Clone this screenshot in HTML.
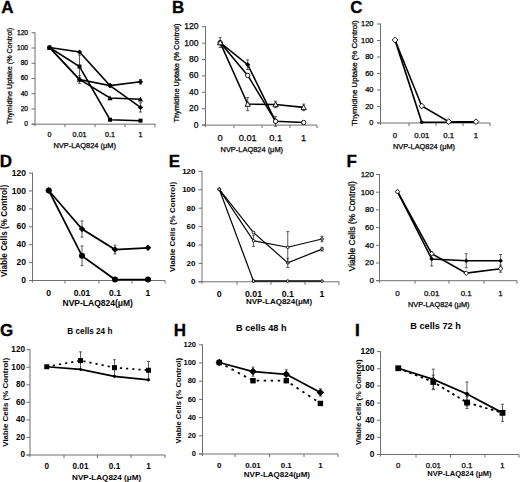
<!DOCTYPE html>
<html><head><meta charset="utf-8"><style>
html,body{margin:0;padding:0;background:#fff;}
svg{display:block;}
text{font-family:"Liberation Sans", sans-serif;fill:#000;}
</style></head><body>
<svg width="520" height="482" viewBox="0 0 520 482">
<rect width="520" height="482" fill="#fff"/>
<text x="1.2" y="13.2" font-size="17" font-weight="bold" stroke="#000" stroke-width="0.3">A</text>
<path d="M35.00,32.26V126.20M31.50,124.20H155.50" stroke="#6e6e6e" stroke-width="1" fill="none"/>
<text x="28.00" y="126.08" font-size="6.6" font-weight="normal" text-anchor="end"  stroke="#000" stroke-width="0.25">0</text>
<text x="28.00" y="110.84" font-size="6.6" font-weight="normal" text-anchor="end"  stroke="#000" stroke-width="0.25">20</text>
<text x="28.00" y="95.60" font-size="6.6" font-weight="normal" text-anchor="end"  stroke="#000" stroke-width="0.25">40</text>
<text x="28.00" y="80.36" font-size="6.6" font-weight="normal" text-anchor="end"  stroke="#000" stroke-width="0.25">60</text>
<text x="28.00" y="65.12" font-size="6.6" font-weight="normal" text-anchor="end"  stroke="#000" stroke-width="0.25">80</text>
<text x="28.00" y="49.88" font-size="6.6" font-weight="normal" text-anchor="end"  stroke="#000" stroke-width="0.25">100</text>
<text x="28.00" y="34.64" font-size="6.6" font-weight="normal" text-anchor="end"  stroke="#000" stroke-width="0.25">120</text>
<path d="M31.50,124.20H35.00M31.50,108.96H35.00M31.50,93.72H35.00M31.50,78.48H35.00M31.50,63.24H35.00M31.50,48.00H35.00M31.50,32.76H35.00M65.00,124.20V127.20M95.00,124.20V127.20M125.00,124.20V127.20M155.00,124.20V127.20" stroke="#6e6e6e" stroke-width="1" fill="none"/>
<text x="49.50" y="137.09" font-size="7.2" font-weight="normal" text-anchor="middle"  stroke="#000" stroke-width="0.25">0</text>
<text x="79.50" y="137.09" font-size="7.2" font-weight="normal" text-anchor="middle"  stroke="#000" stroke-width="0.25">0.01</text>
<text x="110.00" y="137.09" font-size="7.2" font-weight="normal" text-anchor="middle"  stroke="#000" stroke-width="0.25">0.1</text>
<text x="140.50" y="137.09" font-size="7.2" font-weight="normal" text-anchor="middle"  stroke="#000" stroke-width="0.25">1</text>
<text x="84.70" y="147.88" font-size="7.45" font-weight="normal" text-anchor="middle"  stroke="#000" stroke-width="0.25">NVP-LAQ824 (μM)</text>
<text transform="translate(9.00,76.00) rotate(-90)" x="0" y="2.59" font-size="7.2" font-weight="normal" text-anchor="middle"  stroke="#000" stroke-width="0.25">Thymidine Uptake (% Control)</text>
<path d="M49.50,47.50 L79.50,52.07 L110.00,85.60 L140.50,107.47" stroke="#000" stroke-width="1.55" fill="none"/>
<path d="M140.50,102.90V112.04M139.00,102.90H142.00M139.00,112.04H142.00" stroke="#333" stroke-width="0.8" fill="none"/>
<path d="M46.90,47.50L49.50,44.90L52.10,47.50L49.50,50.10Z" fill="#000"/>
<path d="M76.90,52.07L79.50,49.47L82.10,52.07L79.50,54.67Z" fill="#000"/>
<path d="M107.40,85.60L110.00,83.00L112.60,85.60L110.00,88.20Z" fill="#000"/>
<path d="M137.90,107.47L140.50,104.87L143.10,107.47L140.50,110.07Z" fill="#000"/>
<path d="M49.50,47.50 L79.50,66.55 L110.00,119.74 L140.50,120.65" stroke="#000" stroke-width="1.55" fill="none"/>
<path d="M79.50,55.12V77.98M78.00,55.12H81.00M78.00,77.98H81.00" stroke="#333" stroke-width="0.8" fill="none"/>
<rect x="47.50" y="45.50" width="4.00" height="4.00" fill="#000"/>
<rect x="77.50" y="64.55" width="4.00" height="4.00" fill="#000"/>
<rect x="108.00" y="117.74" width="4.00" height="4.00" fill="#000"/>
<rect x="138.50" y="118.65" width="4.00" height="4.00" fill="#000"/>
<path d="M49.50,47.50 L79.50,79.50 L110.00,85.60 L140.50,81.79" stroke="#000" stroke-width="1.55" fill="none"/>
<path d="M79.50,75.69V83.31M78.00,75.69H81.00M78.00,83.31H81.00" stroke="#333" stroke-width="0.8" fill="none"/>
<path d="M140.50,79.50V84.08M139.00,79.50H142.00M139.00,84.08H142.00" stroke="#333" stroke-width="0.8" fill="none"/>
<path d="M46.90,47.50L49.50,44.90L52.10,47.50L49.50,50.10Z" fill="#000"/>
<path d="M76.90,79.50L79.50,76.90L82.10,79.50L79.50,82.10Z" fill="#000"/>
<path d="M107.40,85.60L110.00,83.00L112.60,85.60L110.00,88.20Z" fill="#000"/>
<path d="M137.90,81.79L140.50,79.19L143.10,81.79L140.50,84.39Z" fill="#000"/>
<path d="M49.50,47.50 L79.50,79.50 L110.00,97.94 L140.50,99.32" stroke="#000" stroke-width="1.55" fill="none"/>
<path d="M46.86,49.70L49.50,44.86L52.14,49.70Z" fill="#000"/>
<path d="M76.86,81.70L79.50,76.86L82.14,81.70Z" fill="#000"/>
<path d="M107.36,100.14L110.00,95.30L112.64,100.14Z" fill="#000"/>
<path d="M137.86,101.52L140.50,96.68L143.14,101.52Z" fill="#000"/>
<text x="172" y="13" font-size="17" font-weight="bold" stroke="#000" stroke-width="0.3">B</text>
<path d="M205.50,26.20V127.10M202.00,125.10H317.00" stroke="#6e6e6e" stroke-width="1" fill="none"/>
<text x="198.50" y="127.66" font-size="8.5" font-weight="normal" text-anchor="end"  stroke="#000" stroke-width="0.25">0</text>
<text x="198.50" y="111.26" font-size="8.5" font-weight="normal" text-anchor="end"  stroke="#000" stroke-width="0.25">20</text>
<text x="198.50" y="94.86" font-size="8.5" font-weight="normal" text-anchor="end"  stroke="#000" stroke-width="0.25">40</text>
<text x="198.50" y="78.46" font-size="8.5" font-weight="normal" text-anchor="end"  stroke="#000" stroke-width="0.25">60</text>
<text x="198.50" y="62.06" font-size="8.5" font-weight="normal" text-anchor="end"  stroke="#000" stroke-width="0.25">80</text>
<text x="198.50" y="45.66" font-size="8.5" font-weight="normal" text-anchor="end"  stroke="#000" stroke-width="0.25">100</text>
<text x="198.50" y="29.26" font-size="8.5" font-weight="normal" text-anchor="end"  stroke="#000" stroke-width="0.25">120</text>
<path d="M202.00,125.10H205.50M202.00,108.70H205.50M202.00,92.30H205.50M202.00,75.90H205.50M202.00,59.50H205.50M202.00,43.10H205.50M202.00,26.70H205.50M234.00,125.10V128.10M262.00,125.10V128.10M290.00,125.10V128.10M317.00,125.10V128.10" stroke="#6e6e6e" stroke-width="1" fill="none"/>
<text x="220.20" y="140.65" font-size="9.3" font-weight="normal" text-anchor="middle"  stroke="#000" stroke-width="0.25">0</text>
<text x="247.70" y="140.65" font-size="9.3" font-weight="normal" text-anchor="middle"  stroke="#000" stroke-width="0.25">0.01</text>
<text x="275.60" y="140.65" font-size="9.3" font-weight="normal" text-anchor="middle"  stroke="#000" stroke-width="0.25">0.1</text>
<text x="303.70" y="140.65" font-size="9.3" font-weight="normal" text-anchor="middle"  stroke="#000" stroke-width="0.25">1</text>
<text x="251.80" y="151.68" font-size="7.45" font-weight="normal" text-anchor="middle"  stroke="#000" stroke-width="0.25">NVP-LAQ824 (μM)</text>
<text transform="translate(176.30,73.10) rotate(-90)" x="0" y="2.66" font-size="7.4" font-weight="normal" text-anchor="middle"  stroke="#000" stroke-width="0.25">Thymidine Uptake (% Control)</text>
<path d="M220.20,42.60 L247.70,64.74 L275.60,121.32" stroke="#000" stroke-width="1.55" fill="none"/>
<path d="M220.20,37.68V47.52M218.70,37.68H221.70M218.70,47.52H221.70" stroke="#333" stroke-width="0.8" fill="none"/>
<path d="M247.70,59.82V69.66M246.20,59.82H249.20M246.20,69.66H249.20" stroke="#333" stroke-width="0.8" fill="none"/>
<path d="M275.60,116.40V126.24M274.10,116.40H277.10M274.10,126.24H277.10" stroke="#333" stroke-width="0.8" fill="none"/>
<path d="M217.60,42.60L220.20,40.00L222.80,42.60L220.20,45.20Z" fill="#000"/>
<path d="M245.10,64.74L247.70,62.14L250.30,64.74L247.70,67.34Z" fill="#000"/>
<path d="M273.00,121.32L275.60,118.72L278.20,121.32L275.60,123.92Z" fill="#000"/>
<path d="M220.20,42.60 L247.70,75.40 L275.60,121.32 L303.70,122.55" stroke="#000" stroke-width="1.55" fill="none"/>
<circle cx="220.20" cy="42.60" r="2.20" fill="#fff" stroke="#000" stroke-width="0.9"/>
<circle cx="247.70" cy="75.40" r="2.20" fill="#fff" stroke="#000" stroke-width="0.9"/>
<circle cx="275.60" cy="121.32" r="2.20" fill="#fff" stroke="#000" stroke-width="0.9"/>
<circle cx="303.70" cy="122.55" r="2.20" fill="#fff" stroke="#000" stroke-width="0.9"/>
<path d="M220.20,42.60 L247.70,104.10 L275.60,104.51 L303.70,107.38" stroke="#000" stroke-width="1.55" fill="none"/>
<path d="M247.70,97.54V110.66M246.20,97.54H249.20M246.20,110.66H249.20" stroke="#333" stroke-width="0.8" fill="none"/>
<path d="M275.60,101.23V107.79M274.10,101.23H277.10M274.10,107.79H277.10" stroke="#333" stroke-width="0.8" fill="none"/>
<path d="M303.70,104.10V110.66M302.20,104.10H305.20M302.20,110.66H305.20" stroke="#333" stroke-width="0.8" fill="none"/>
<path d="M217.56,44.80L220.20,39.96L222.84,44.80Z" fill="#fff" stroke="#000" stroke-width="0.9"/>
<path d="M245.06,106.30L247.70,101.46L250.34,106.30Z" fill="#fff" stroke="#000" stroke-width="0.9"/>
<path d="M272.96,106.71L275.60,101.87L278.24,106.71Z" fill="#fff" stroke="#000" stroke-width="0.9"/>
<path d="M301.06,109.58L303.70,104.74L306.34,109.58Z" fill="#fff" stroke="#000" stroke-width="0.9"/>
<text x="350.2" y="13.2" font-size="17" font-weight="bold" stroke="#000" stroke-width="0.3">C</text>
<path d="M380.50,23.50V125.00M377.00,123.00H490.00" stroke="#6e6e6e" stroke-width="1" fill="none"/>
<text x="373.50" y="125.20" font-size="7.5" font-weight="normal" text-anchor="end"  stroke="#000" stroke-width="0.25">0</text>
<text x="373.50" y="108.70" font-size="7.5" font-weight="normal" text-anchor="end"  stroke="#000" stroke-width="0.25">20</text>
<text x="373.50" y="92.20" font-size="7.5" font-weight="normal" text-anchor="end"  stroke="#000" stroke-width="0.25">40</text>
<text x="373.50" y="75.70" font-size="7.5" font-weight="normal" text-anchor="end"  stroke="#000" stroke-width="0.25">60</text>
<text x="373.50" y="59.20" font-size="7.5" font-weight="normal" text-anchor="end"  stroke="#000" stroke-width="0.25">80</text>
<text x="373.50" y="42.70" font-size="7.5" font-weight="normal" text-anchor="end"  stroke="#000" stroke-width="0.25">100</text>
<text x="373.50" y="26.20" font-size="7.5" font-weight="normal" text-anchor="end"  stroke="#000" stroke-width="0.25">120</text>
<path d="M377.00,123.00H380.50M377.00,106.50H380.50M377.00,90.00H380.50M377.00,73.50H380.50M377.00,57.00H380.50M377.00,40.50H380.50M377.00,24.00H380.50M409.00,123.00V126.00M436.00,123.00V126.00M463.00,123.00V126.00M490.00,123.00V126.00" stroke="#6e6e6e" stroke-width="1" fill="none"/>
<text x="395.00" y="137.81" font-size="7.8" font-weight="normal" text-anchor="middle"  stroke="#000" stroke-width="0.25">0</text>
<text x="421.75" y="137.81" font-size="7.8" font-weight="normal" text-anchor="middle"  stroke="#000" stroke-width="0.25">0.01</text>
<text x="448.75" y="137.81" font-size="7.8" font-weight="normal" text-anchor="middle"  stroke="#000" stroke-width="0.25">0.1</text>
<text x="476.00" y="137.81" font-size="7.8" font-weight="normal" text-anchor="middle"  stroke="#000" stroke-width="0.25">1</text>
<text x="424.00" y="148.66" font-size="7.4" font-weight="normal" text-anchor="middle"  stroke="#000" stroke-width="0.25">NVP-LAQ824 (μM)</text>
<text transform="translate(354.40,73.20) rotate(-90)" x="0" y="2.84" font-size="7.9" font-weight="normal" text-anchor="middle"  stroke="#000" stroke-width="0.25">Thymidine Uptake (% Control)</text>
<path d="M395.00,40.00 L421.75,122.25 L448.75,122.25 L476.00,122.25" stroke="#000" stroke-width="1.7" fill="none"/>
<circle cx="395.00" cy="40.00" r="1.80" fill="#000"/>
<circle cx="421.75" cy="122.25" r="1.80" fill="#000"/>
<circle cx="448.75" cy="122.25" r="1.80" fill="#000"/>
<circle cx="476.00" cy="122.25" r="1.80" fill="#000"/>
<path d="M395.00,40.00 L421.75,106.00 L448.75,121.67 L476.00,121.67" stroke="#000" stroke-width="1.55" fill="none"/>
<path d="M392.14,40.00L395.00,37.14L397.86,40.00L395.00,42.86Z" fill="#fff" stroke="#000" stroke-width="0.9"/>
<path d="M418.89,106.00L421.75,103.14L424.61,106.00L421.75,108.86Z" fill="#fff" stroke="#000" stroke-width="0.9"/>
<path d="M445.89,121.67L448.75,118.81L451.61,121.67L448.75,124.53Z" fill="#fff" stroke="#000" stroke-width="0.9"/>
<path d="M473.14,121.67L476.00,118.81L478.86,121.67L476.00,124.53Z" fill="#fff" stroke="#000" stroke-width="0.9"/>
<text x="-0.3" y="166.8" font-size="17" font-weight="bold" stroke="#000" stroke-width="0.3">D</text>
<path d="M32.50,172.60V282.50M29.00,280.50H165.00" stroke="#6e6e6e" stroke-width="1" fill="none"/>
<text x="26.00" y="283.06" font-size="8.5" font-weight="bold" text-anchor="end" >0</text>
<text x="26.00" y="265.16" font-size="8.5" font-weight="bold" text-anchor="end" >20</text>
<text x="26.00" y="247.26" font-size="8.5" font-weight="bold" text-anchor="end" >40</text>
<text x="26.00" y="229.36" font-size="8.5" font-weight="bold" text-anchor="end" >60</text>
<text x="26.00" y="211.46" font-size="8.5" font-weight="bold" text-anchor="end" >80</text>
<text x="26.00" y="193.56" font-size="8.5" font-weight="bold" text-anchor="end" >100</text>
<text x="26.00" y="175.66" font-size="8.5" font-weight="bold" text-anchor="end" >120</text>
<path d="M29.00,280.50H32.50M29.00,262.60H32.50M29.00,244.70H32.50M29.00,226.80H32.50M29.00,208.90H32.50M29.00,191.00H32.50M29.00,173.10H32.50M65.00,280.50V283.50M99.00,280.50V283.50M132.00,280.50V283.50M165.00,280.50V283.50" stroke="#6e6e6e" stroke-width="1" fill="none"/>
<text x="48.75" y="296.10" font-size="8.6" font-weight="bold" text-anchor="middle" >0</text>
<text x="82.00" y="296.10" font-size="8.6" font-weight="bold" text-anchor="middle" >0.01</text>
<text x="115.00" y="296.10" font-size="8.6" font-weight="bold" text-anchor="middle" >0.1</text>
<text x="148.00" y="296.10" font-size="8.6" font-weight="bold" text-anchor="middle" >1</text>
<text x="97.70" y="306.26" font-size="8.5" font-weight="bold" text-anchor="middle" >NVP-LAQ824(μM)</text>
<text transform="translate(4.20,231.00) rotate(-90)" x="0" y="2.95" font-size="8.2" font-weight="bold" text-anchor="middle" >Viable Cells (% Control)</text>
<path d="M48.75,190.50 L82.00,228.99 L115.00,249.57 L148.00,247.78" stroke="#000" stroke-width="1.7" fill="none"/>
<path d="M82.00,220.93V237.04M80.50,220.93H83.50M80.50,237.04H83.50" stroke="#333" stroke-width="0.8" fill="none"/>
<path d="M115.00,245.09V254.04M113.50,245.09H116.50M113.50,254.04H116.50" stroke="#333" stroke-width="0.8" fill="none"/>
<path d="M45.50,190.50L48.75,187.25L52.00,190.50L48.75,193.75Z" fill="#000"/>
<path d="M78.75,228.99L82.00,225.74L85.25,228.99L82.00,232.24Z" fill="#000"/>
<path d="M111.75,249.57L115.00,246.32L118.25,249.57L115.00,252.82Z" fill="#000"/>
<path d="M144.75,247.78L148.00,244.53L151.25,247.78L148.00,251.03Z" fill="#000"/>
<path d="M48.75,190.50 L82.00,255.84 L115.00,279.55 L148.00,279.55" stroke="#000" stroke-width="1.7" fill="none"/>
<path d="M82.00,245.99V265.68M80.50,245.99H83.50M80.50,265.68H83.50" stroke="#333" stroke-width="0.8" fill="none"/>
<circle cx="48.75" cy="190.50" r="3.00" fill="#000"/>
<circle cx="82.00" cy="255.84" r="3.00" fill="#000"/>
<circle cx="115.00" cy="279.55" r="3.00" fill="#000"/>
<circle cx="148.00" cy="279.55" r="3.00" fill="#000"/>
<text x="168.7" y="166.8" font-size="17" font-weight="bold" stroke="#000" stroke-width="0.3">E</text>
<path d="M202.00,170.90V283.80M198.50,281.80H339.00" stroke="#6e6e6e" stroke-width="1" fill="none"/>
<text x="195.50" y="284.18" font-size="8" font-weight="bold" text-anchor="end" >0</text>
<text x="195.50" y="265.78" font-size="8" font-weight="bold" text-anchor="end" >20</text>
<text x="195.50" y="247.38" font-size="8" font-weight="bold" text-anchor="end" >40</text>
<text x="195.50" y="228.98" font-size="8" font-weight="bold" text-anchor="end" >60</text>
<text x="195.50" y="210.58" font-size="8" font-weight="bold" text-anchor="end" >80</text>
<text x="195.50" y="192.18" font-size="8" font-weight="bold" text-anchor="end" >100</text>
<text x="195.50" y="173.78" font-size="8" font-weight="bold" text-anchor="end" >120</text>
<path d="M198.50,281.80H202.00M198.50,263.40H202.00M198.50,245.00H202.00M198.50,226.60H202.00M198.50,208.20H202.00M198.50,189.80H202.00M198.50,171.40H202.00M237.00,281.80V284.80M271.00,281.80V284.80M305.00,281.80V284.80M339.00,281.80V284.80" stroke="#6e6e6e" stroke-width="1" fill="none"/>
<text x="219.25" y="297.42" font-size="8.8" font-weight="bold" text-anchor="middle" >0</text>
<text x="253.50" y="297.42" font-size="8.8" font-weight="bold" text-anchor="middle" >0.01</text>
<text x="287.75" y="297.42" font-size="8.8" font-weight="bold" text-anchor="middle" >0.1</text>
<text x="322.00" y="297.42" font-size="8.8" font-weight="bold" text-anchor="middle" >1</text>
<text x="279.00" y="304.38" font-size="8" font-weight="bold" text-anchor="middle" >NVP-LAQ824(μM)</text>
<text transform="translate(172.40,227.00) rotate(-90)" x="0" y="2.88" font-size="8" font-weight="bold" text-anchor="middle" >Viable Cells (% Control)</text>
<path d="M219.25,189.30 L253.50,232.54 L287.75,262.90 L322.00,249.10" stroke="#000" stroke-width="1.2" fill="none"/>
<path d="M287.75,258.30V267.50M286.25,258.30H289.25M286.25,267.50H289.25" stroke="#333" stroke-width="0.8" fill="none"/>
<path d="M322.00,247.26V250.94M320.50,247.26H323.50M320.50,250.94H323.50" stroke="#333" stroke-width="0.8" fill="none"/>
<circle cx="219.25" cy="189.30" r="1.30" fill="#fff" stroke="#000" stroke-width="0.9"/>
<circle cx="253.50" cy="232.54" r="1.30" fill="#fff" stroke="#000" stroke-width="0.9"/>
<circle cx="287.75" cy="262.90" r="1.30" fill="#fff" stroke="#000" stroke-width="0.9"/>
<circle cx="322.00" cy="249.10" r="1.30" fill="#fff" stroke="#000" stroke-width="0.9"/>
<path d="M219.25,189.30 L253.50,240.82 L287.75,247.26 L322.00,238.98" stroke="#000" stroke-width="1.2" fill="none"/>
<path d="M253.50,235.30V246.34M252.00,235.30H255.00M252.00,246.34H255.00" stroke="#333" stroke-width="0.8" fill="none"/>
<path d="M287.75,231.62V262.90M286.25,231.62H289.25M286.25,262.90H289.25" stroke="#333" stroke-width="0.8" fill="none"/>
<path d="M322.00,236.22V241.74M320.50,236.22H323.50M320.50,241.74H323.50" stroke="#333" stroke-width="0.8" fill="none"/>
<circle cx="219.25" cy="189.30" r="1.30" fill="#fff" stroke="#000" stroke-width="0.9"/>
<circle cx="253.50" cy="240.82" r="1.30" fill="#fff" stroke="#000" stroke-width="0.9"/>
<circle cx="287.75" cy="247.26" r="1.30" fill="#fff" stroke="#000" stroke-width="0.9"/>
<circle cx="322.00" cy="238.98" r="1.30" fill="#fff" stroke="#000" stroke-width="0.9"/>
<path d="M219.25,189.30 L253.50,281.02" stroke="#000" stroke-width="1.2" fill="none"/>
<circle cx="219.25" cy="189.30" r="1.30" fill="#fff" stroke="#000" stroke-width="0.9"/>
<circle cx="253.50" cy="281.02" r="1.30" fill="#fff" stroke="#000" stroke-width="0.9"/>
<path d="M253.50,281.02 L287.75,281.02 L322.00,281.02" stroke="#000" stroke-width="1.4" fill="none"/>
<circle cx="253.50" cy="281.02" r="1.30" fill="#fff" stroke="#000" stroke-width="0.9"/>
<circle cx="287.75" cy="281.02" r="1.30" fill="#fff" stroke="#000" stroke-width="0.9"/>
<circle cx="322.00" cy="281.02" r="1.30" fill="#fff" stroke="#000" stroke-width="0.9"/>
<text x="346.6" y="166.8" font-size="17" font-weight="bold" stroke="#000" stroke-width="0.3">F</text>
<path d="M379.50,174.00V282.70M376.00,280.70H517.00" stroke="#6e6e6e" stroke-width="1" fill="none"/>
<text x="374.00" y="283.08" font-size="8" font-weight="normal" text-anchor="end"  stroke="#000" stroke-width="0.25">0</text>
<text x="374.00" y="265.38" font-size="8" font-weight="normal" text-anchor="end"  stroke="#000" stroke-width="0.25">20</text>
<text x="374.00" y="247.68" font-size="8" font-weight="normal" text-anchor="end"  stroke="#000" stroke-width="0.25">40</text>
<text x="374.00" y="229.98" font-size="8" font-weight="normal" text-anchor="end"  stroke="#000" stroke-width="0.25">60</text>
<text x="374.00" y="212.28" font-size="8" font-weight="normal" text-anchor="end"  stroke="#000" stroke-width="0.25">80</text>
<text x="374.00" y="194.58" font-size="8" font-weight="normal" text-anchor="end"  stroke="#000" stroke-width="0.25">100</text>
<text x="374.00" y="176.88" font-size="8" font-weight="normal" text-anchor="end"  stroke="#000" stroke-width="0.25">120</text>
<path d="M376.00,280.70H379.50M376.00,263.00H379.50M376.00,245.30H379.50M376.00,227.60H379.50M376.00,209.90H379.50M376.00,192.20H379.50M376.00,174.50H379.50M415.00,280.70V283.70M449.00,280.70V283.70M484.00,280.70V283.70M517.00,280.70V283.70" stroke="#6e6e6e" stroke-width="1" fill="none"/>
<text x="397.50" y="295.58" font-size="8" font-weight="normal" text-anchor="middle"  stroke="#000" stroke-width="0.25">0</text>
<text x="431.70" y="295.58" font-size="8" font-weight="normal" text-anchor="middle"  stroke="#000" stroke-width="0.25">0.01</text>
<text x="466.20" y="295.58" font-size="8" font-weight="normal" text-anchor="middle"  stroke="#000" stroke-width="0.25">0.1</text>
<text x="500.60" y="295.58" font-size="8" font-weight="normal" text-anchor="middle"  stroke="#000" stroke-width="0.25">1</text>
<text x="438.80" y="306.83" font-size="7.3" font-weight="normal" text-anchor="middle"  stroke="#000" stroke-width="0.25">NVP-LAQ824 (μM)</text>
<text transform="translate(352.00,226.30) rotate(-90)" x="0" y="3.06" font-size="8.5" font-weight="normal" text-anchor="middle"  stroke="#000" stroke-width="0.25">Viable Cells (% Control)</text>
<path d="M397.50,191.70 L431.70,258.96 L466.20,260.73 L500.60,260.73" stroke="#000" stroke-width="1.55" fill="none"/>
<path d="M431.70,251.88V266.04M430.20,251.88H433.20M430.20,266.04H433.20" stroke="#333" stroke-width="0.8" fill="none"/>
<path d="M466.20,253.65V267.81M464.70,253.65H467.70M464.70,267.81H467.70" stroke="#333" stroke-width="0.8" fill="none"/>
<path d="M500.60,254.53V266.93M499.10,254.53H502.10M499.10,266.93H502.10" stroke="#333" stroke-width="0.8" fill="none"/>
<path d="M395.16,191.70L397.50,189.36L399.84,191.70L397.50,194.04Z" fill="#000"/>
<path d="M429.36,258.96L431.70,256.62L434.04,258.96L431.70,261.30Z" fill="#000"/>
<path d="M463.86,260.73L466.20,258.39L468.54,260.73L466.20,263.07Z" fill="#000"/>
<path d="M498.26,260.73L500.60,258.39L502.94,260.73L500.60,263.07Z" fill="#000"/>
<path d="M397.50,191.70 L431.70,253.65 L466.20,273.12 L500.60,268.69" stroke="#000" stroke-width="1.55" fill="none"/>
<path d="M500.60,265.15V272.24M499.10,265.15H502.10M499.10,272.24H502.10" stroke="#333" stroke-width="0.8" fill="none"/>
<path d="M395.16,191.70L397.50,189.36L399.84,191.70L397.50,194.04Z" fill="#fff" stroke="#000" stroke-width="0.9"/>
<path d="M429.36,253.65L431.70,251.31L434.04,253.65L431.70,255.99Z" fill="#fff" stroke="#000" stroke-width="0.9"/>
<path d="M463.86,273.12L466.20,270.78L468.54,273.12L466.20,275.46Z" fill="#fff" stroke="#000" stroke-width="0.9"/>
<path d="M498.26,268.69L500.60,266.36L502.94,268.69L500.60,271.03Z" fill="#fff" stroke="#000" stroke-width="0.9"/>
<text x="0" y="335.5" font-size="17" font-weight="bold" stroke="#000" stroke-width="0.3">G</text>
<text x="89.90" y="334.35" font-size="8.2" font-weight="bold" text-anchor="middle" >B cells 24 h</text>
<path d="M30.00,349.20V457.00M26.50,455.00H165.00" stroke="#6e6e6e" stroke-width="1" fill="none"/>
<text x="25.00" y="457.45" font-size="8.2" font-weight="bold" text-anchor="end" >0</text>
<text x="25.00" y="439.90" font-size="8.2" font-weight="bold" text-anchor="end" >20</text>
<text x="25.00" y="422.35" font-size="8.2" font-weight="bold" text-anchor="end" >40</text>
<text x="25.00" y="404.80" font-size="8.2" font-weight="bold" text-anchor="end" >60</text>
<text x="25.00" y="387.25" font-size="8.2" font-weight="bold" text-anchor="end" >80</text>
<text x="25.00" y="369.70" font-size="8.2" font-weight="bold" text-anchor="end" >100</text>
<text x="25.00" y="352.15" font-size="8.2" font-weight="bold" text-anchor="end" >120</text>
<path d="M26.50,455.00H30.00M26.50,437.45H30.00M26.50,419.90H30.00M26.50,402.35H30.00M26.50,384.80H30.00M26.50,367.25H30.00M26.50,349.70H30.00M64.00,455.00V458.00M97.50,455.00V458.00M131.00,455.00V458.00M165.00,455.00V458.00" stroke="#6e6e6e" stroke-width="1" fill="none"/>
<text x="46.75" y="469.35" font-size="8.2" font-weight="bold" text-anchor="middle" >0</text>
<text x="80.50" y="469.35" font-size="8.2" font-weight="bold" text-anchor="middle" >0.01</text>
<text x="114.50" y="469.35" font-size="8.2" font-weight="bold" text-anchor="middle" >0.1</text>
<text x="148.50" y="469.35" font-size="8.2" font-weight="bold" text-anchor="middle" >1</text>
<text x="106.60" y="479.51" font-size="8.07" font-weight="bold" text-anchor="middle" >NVP-LAQ824 (μM)</text>
<text transform="translate(5.60,402.30) rotate(-90)" x="0" y="2.84" font-size="7.9" font-weight="bold" text-anchor="middle" >Viable Cells (% Control)</text>
<path d="M46.75,366.75 L80.50,360.61 L114.50,367.63 L148.50,370.26" stroke="#000" stroke-width="1.7" fill="none" stroke-dasharray="2.2,4"/>
<path d="M80.50,351.83V369.38M79.00,351.83H82.00M79.00,369.38H82.00" stroke="#333" stroke-width="0.8" fill="none"/>
<path d="M114.50,359.73V375.52M113.00,359.73H116.00M113.00,375.52H116.00" stroke="#333" stroke-width="0.8" fill="none"/>
<path d="M148.50,361.49V379.04M147.00,361.49H150.00M147.00,379.04H150.00" stroke="#333" stroke-width="0.8" fill="none"/>
<rect x="44.25" y="364.25" width="5.00" height="5.00" fill="#000"/>
<rect x="78.00" y="358.11" width="5.00" height="5.00" fill="#000"/>
<rect x="112.00" y="365.13" width="5.00" height="5.00" fill="#000"/>
<rect x="146.00" y="367.76" width="5.00" height="5.00" fill="#000"/>
<path d="M46.75,366.75 L80.50,369.38 L114.50,376.40 L148.50,379.91" stroke="#000" stroke-width="1.7" fill="none"/>
<path d="M44.80,366.75L46.75,364.80L48.70,366.75L46.75,368.70Z" fill="#000"/>
<path d="M78.55,369.38L80.50,367.43L82.45,369.38L80.50,371.33Z" fill="#000"/>
<path d="M112.55,376.40L114.50,374.45L116.45,376.40L114.50,378.35Z" fill="#000"/>
<path d="M146.55,379.91L148.50,377.96L150.45,379.91L148.50,381.86Z" fill="#000"/>
<text x="173.7" y="335.6" font-size="17" font-weight="bold" stroke="#000" stroke-width="0.3">H</text>
<text x="261.30" y="331.41" font-size="9.2" font-weight="bold" text-anchor="middle" >B cells 48 h</text>
<path d="M202.50,344.30V456.00M199.00,454.00H338.00" stroke="#6e6e6e" stroke-width="1" fill="none"/>
<text x="196.00" y="456.20" font-size="7.5" font-weight="bold" text-anchor="end" >0</text>
<text x="196.00" y="438.00" font-size="7.5" font-weight="bold" text-anchor="end" >20</text>
<text x="196.00" y="419.80" font-size="7.5" font-weight="bold" text-anchor="end" >40</text>
<text x="196.00" y="401.60" font-size="7.5" font-weight="bold" text-anchor="end" >60</text>
<text x="196.00" y="383.40" font-size="7.5" font-weight="bold" text-anchor="end" >80</text>
<text x="196.00" y="365.20" font-size="7.5" font-weight="bold" text-anchor="end" >100</text>
<text x="196.00" y="347.00" font-size="7.5" font-weight="bold" text-anchor="end" >120</text>
<path d="M199.00,454.00H202.50M199.00,435.80H202.50M199.00,417.60H202.50M199.00,399.40H202.50M199.00,381.20H202.50M199.00,363.00H202.50M199.00,344.80H202.50M235.00,454.00V457.00M269.50,454.00V457.00M304.00,454.00V457.00M338.00,454.00V457.00" stroke="#6e6e6e" stroke-width="1" fill="none"/>
<text x="219.25" y="467.68" font-size="8" font-weight="bold" text-anchor="middle" >0</text>
<text x="253.00" y="467.68" font-size="8" font-weight="bold" text-anchor="middle" >0.01</text>
<text x="286.25" y="467.68" font-size="8" font-weight="bold" text-anchor="middle" >0.1</text>
<text x="320.40" y="467.68" font-size="8" font-weight="bold" text-anchor="middle" >1</text>
<text x="276.90" y="477.38" font-size="8" font-weight="bold" text-anchor="middle" >NVP-LAQ824(μM)</text>
<text transform="translate(178.00,400.80) rotate(-90)" x="0" y="2.74" font-size="7.6" font-weight="bold" text-anchor="middle" >Viable Cells (% Control)</text>
<path d="M219.25,362.50 L253.00,371.60 L286.25,374.33 L320.40,392.53" stroke="#000" stroke-width="1.8" fill="none"/>
<path d="M253.00,367.05V376.15M251.50,367.05H254.50M251.50,376.15H254.50" stroke="#333" stroke-width="0.8" fill="none"/>
<path d="M286.25,369.78V378.88M284.75,369.78H287.75M284.75,378.88H287.75" stroke="#333" stroke-width="0.8" fill="none"/>
<path d="M320.40,388.89V396.17M318.90,388.89H321.90M318.90,396.17H321.90" stroke="#333" stroke-width="0.8" fill="none"/>
<path d="M215.48,362.50L219.25,358.73L223.02,362.50L219.25,366.27Z" fill="#000"/>
<path d="M249.23,371.60L253.00,367.83L256.77,371.60L253.00,375.37Z" fill="#000"/>
<path d="M282.48,374.33L286.25,370.56L290.02,374.33L286.25,378.10Z" fill="#000"/>
<path d="M316.63,392.53L320.40,388.76L324.17,392.53L320.40,396.30Z" fill="#000"/>
<path d="M219.25,362.50 L253.00,380.70 L286.25,380.70 L320.40,403.45" stroke="#000" stroke-width="1.8" fill="none" stroke-dasharray="2.5,4.5"/>
<rect x="216.55" y="359.80" width="5.40" height="5.40" fill="#000"/>
<rect x="250.30" y="378.00" width="5.40" height="5.40" fill="#000"/>
<rect x="283.55" y="378.00" width="5.40" height="5.40" fill="#000"/>
<rect x="317.70" y="400.75" width="5.40" height="5.40" fill="#000"/>
<text x="355.1" y="335.6" font-size="17" font-weight="bold" stroke="#000" stroke-width="0.5">I</text>
<text x="435.50" y="329.41" font-size="9.2" font-weight="bold" text-anchor="middle" >B cells 72 h</text>
<path d="M380.50,351.10V456.50M377.00,454.50H519.00" stroke="#6e6e6e" stroke-width="1" fill="none"/>
<text x="374.50" y="457.02" font-size="8.4" font-weight="bold" text-anchor="end" >0</text>
<text x="374.50" y="439.87" font-size="8.4" font-weight="bold" text-anchor="end" >20</text>
<text x="374.50" y="422.72" font-size="8.4" font-weight="bold" text-anchor="end" >40</text>
<text x="374.50" y="405.57" font-size="8.4" font-weight="bold" text-anchor="end" >60</text>
<text x="374.50" y="388.42" font-size="8.4" font-weight="bold" text-anchor="end" >80</text>
<text x="374.50" y="371.27" font-size="8.4" font-weight="bold" text-anchor="end" >100</text>
<text x="374.50" y="354.12" font-size="8.4" font-weight="bold" text-anchor="end" >120</text>
<path d="M377.00,454.50H380.50M377.00,437.35H380.50M377.00,420.20H380.50M377.00,403.05H380.50M377.00,385.90H380.50M377.00,368.75H380.50M377.00,351.60H380.50M416.00,454.50V457.50M450.50,454.50V457.50M485.00,454.50V457.50M519.00,454.50V457.50" stroke="#6e6e6e" stroke-width="1" fill="none"/>
<text x="398.25" y="468.41" font-size="7.8" font-weight="normal" text-anchor="middle"  stroke="#000" stroke-width="0.25">0</text>
<text x="433.30" y="468.41" font-size="7.8" font-weight="normal" text-anchor="middle"  stroke="#000" stroke-width="0.25">0.01</text>
<text x="467.00" y="468.41" font-size="7.8" font-weight="normal" text-anchor="middle"  stroke="#000" stroke-width="0.25">0.1</text>
<text x="502.50" y="468.41" font-size="7.8" font-weight="normal" text-anchor="middle"  stroke="#000" stroke-width="0.25">1</text>
<text x="459.40" y="476.40" font-size="7.5" font-weight="bold" text-anchor="middle" >NVP-LAQ824 (μM)</text>
<text transform="translate(358.30,402.30) rotate(-90)" x="0" y="2.74" font-size="7.6" font-weight="bold" text-anchor="middle" >Viable Cells (% Control)</text>
<path d="M398.25,368.25 L433.30,379.40 L467.00,393.98 L502.50,412.84" stroke="#000" stroke-width="1.8" fill="none"/>
<path d="M433.30,369.11V389.69M431.80,369.11H434.80M431.80,389.69H434.80" stroke="#333" stroke-width="0.8" fill="none"/>
<path d="M467.00,381.97V405.98M465.50,381.97H468.50M465.50,405.98H468.50" stroke="#333" stroke-width="0.8" fill="none"/>
<path d="M395.65,368.25L398.25,365.65L400.85,368.25L398.25,370.85Z" fill="#000"/>
<path d="M430.70,379.40L433.30,376.80L435.90,379.40L433.30,382.00Z" fill="#000"/>
<path d="M464.40,393.98L467.00,391.38L469.60,393.98L467.00,396.58Z" fill="#000"/>
<path d="M499.90,412.84L502.50,410.24L505.10,412.84L502.50,415.44Z" fill="#000"/>
<path d="M398.25,368.25 L433.30,381.97 L467.00,402.55 L502.50,412.84" stroke="#000" stroke-width="1.8" fill="none" stroke-dasharray="2.5,3.5"/>
<path d="M433.30,375.11V388.83M431.80,375.11H434.80M431.80,388.83H434.80" stroke="#333" stroke-width="0.8" fill="none"/>
<path d="M467.00,396.55V408.55M465.50,396.55H468.50M465.50,408.55H468.50" stroke="#333" stroke-width="0.8" fill="none"/>
<path d="M502.50,404.26V421.42M501.00,404.26H504.00M501.00,421.42H504.00" stroke="#333" stroke-width="0.8" fill="none"/>
<rect x="395.35" y="365.35" width="5.80" height="5.80" fill="#000"/>
<rect x="430.40" y="379.07" width="5.80" height="5.80" fill="#000"/>
<rect x="464.10" y="399.65" width="5.80" height="5.80" fill="#000"/>
<rect x="499.60" y="409.94" width="5.80" height="5.80" fill="#000"/>
</svg>
</body></html>
